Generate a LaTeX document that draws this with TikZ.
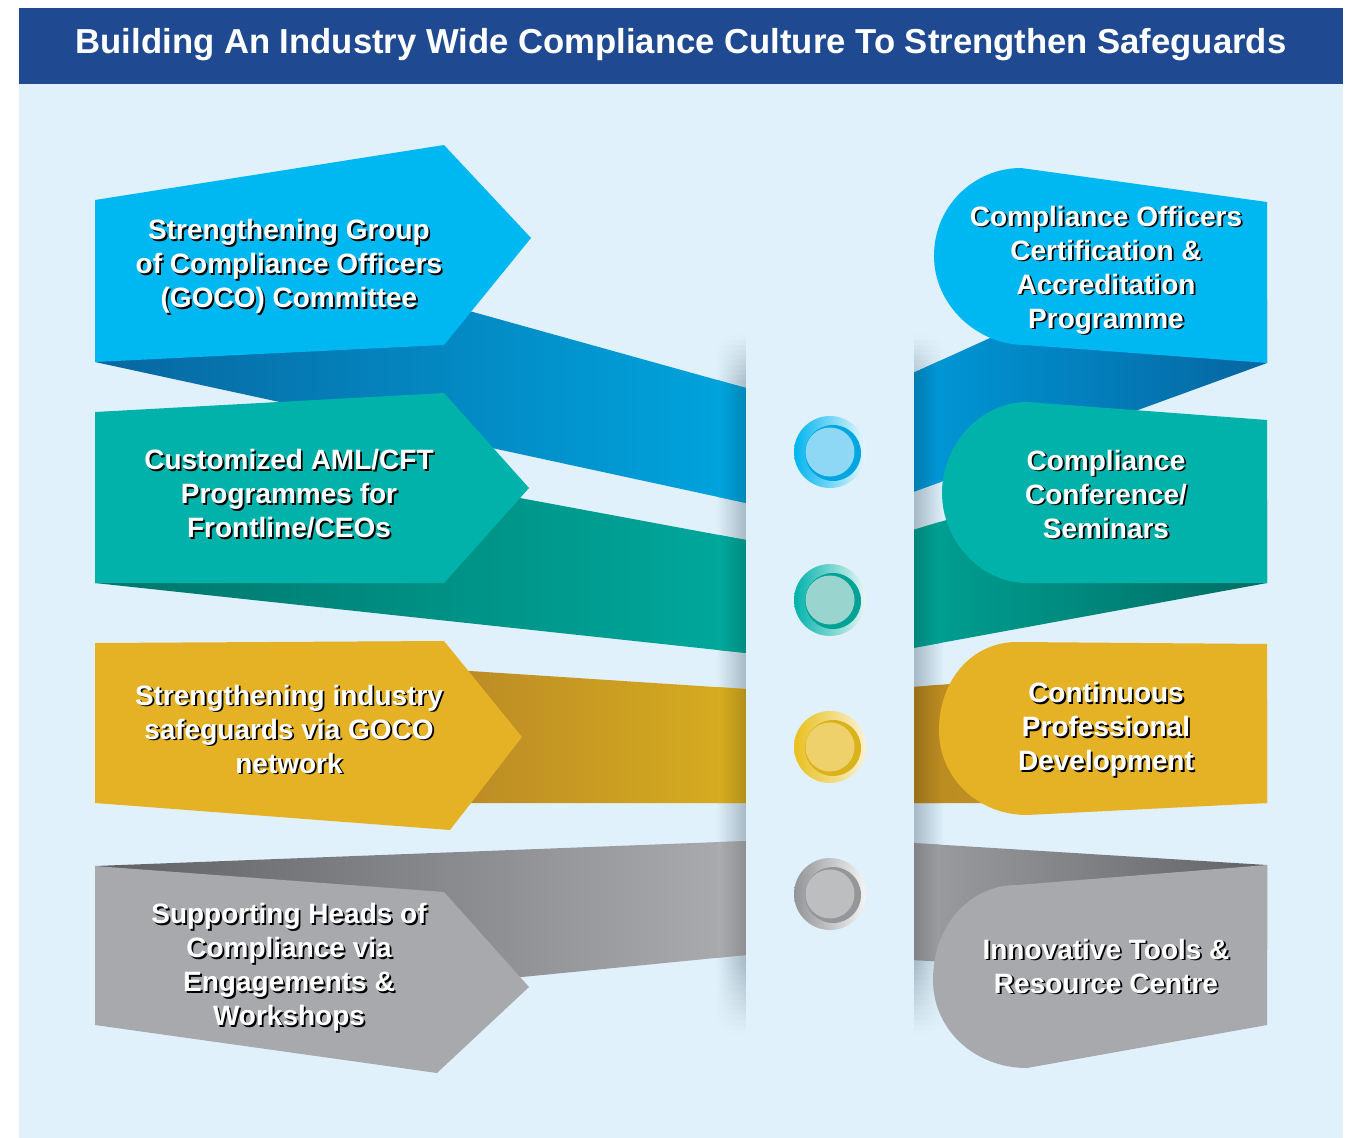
\documentclass[tikz,border=0pt]{standalone}
\usepackage{fontspec}
\setmainfont{Liberation Sans}
\definecolor{bgpanel}{HTML}{E0F1FB}
\definecolor{shcol}{HTML}{A6B8C4}
\definecolor{titlebar}{HTML}{1F4A91}
\definecolor{bluef}{HTML}{00B8F1}
\definecolor{tealf}{HTML}{00B2A9}
\definecolor{yellf}{HTML}{E5B225}
\definecolor{grayf}{HTML}{A7A9AC}
% ribbon colours
\definecolor{rbLa}{HTML}{0866A0}\definecolor{rbLb}{HTML}{00A5DF}
\definecolor{rtLa}{HTML}{00756A}\definecolor{rtLb}{HTML}{00A99D}
\definecolor{ryLa}{HTML}{BA8926}\definecolor{ryLb}{HTML}{D8AE1F}
\definecolor{rgLa}{HTML}{5F6063}\definecolor{rgLb}{HTML}{ABADB0}
\definecolor{rbRa}{HTML}{0098D8}\definecolor{rbRb}{HTML}{0665A0}
\definecolor{rtRa}{HTML}{00A194}\definecolor{rtRb}{HTML}{006C62}
\definecolor{ryRa}{HTML}{BA8A20}\definecolor{ryRb}{HTML}{D3A62A}
\definecolor{rgRa}{HTML}{9C9EA1}\definecolor{rgRb}{HTML}{616266}
% disc colours
\definecolor{dbA}{HTML}{00B5EF}\definecolor{dbB}{HTML}{E8F6FD}\definecolor{dbC}{HTML}{00A6E0}\definecolor{dbD}{HTML}{8ED8F6}
\definecolor{dtA}{HTML}{00B2A9}\definecolor{dtB}{HTML}{EAF6F4}\definecolor{dtC}{HTML}{00A295}\definecolor{dtD}{HTML}{9AD4CF}
\definecolor{dyA}{HTML}{E9C01E}\definecolor{dyB}{HTML}{FBF1D2}\definecolor{dyC}{HTML}{D9B21C}\definecolor{dyD}{HTML}{EFD16C}
\definecolor{dgA}{HTML}{929497}\definecolor{dgB}{HTML}{F4F4F4}\definecolor{dgC}{HTML}{949699}\definecolor{dgD}{HTML}{BDBEC0}
\newcommand{\shadowtext}[3]{%
  \node[lbl, text=black] at ([shift={(1.8,1.8)}]#1) {#3};
  \node[lbl, text=white] (#2) at (#1) {#3};}
\newcommand{\discmark}[7]{%
  \shade[left color=#3, right color=#4] (#1,#2) circle[radius=36];
  \fill[#5] (#1+3,#2+1) circle[radius=28];
  \fill[#6] (#1,#2) circle[radius=24.5];
  \coordinate (#7) at (#1,#2);}
% left ribbon with darkened end at the column
\newcommand{\ribbonL}[3]{%
  \shade[left color=#1, right color=#2] #3;
  \begin{scope}\clip #3;
    \shade[left color=#2, right color=#2!82!black] (718,300) rectangle (746.5,1050);
  \end{scope}}
\newcommand{\ribbonR}[3]{%
  \shade[left color=#1, right color=#2] #3;
  \begin{scope}\clip #3;
    \shade[left color=#1!82!black, right color=#1] (913.5,300) rectangle (940,1050);
  \end{scope}}
\begin{document}
\begin{tikzpicture}[x=0.75pt,y=-0.75pt,
  lbl/.style={align=center, inner sep=0pt, font=\bfseries\fontsize{21}{25.5}\selectfont},
  titletext/.style={text=white, inner sep=0pt, font=\bfseries\fontsize{26}{30}\selectfont}]
\useasboundingbox (0,0) rectangle (1357,1138);
\fill[white] (0,0) rectangle (1357,1138);
\fill[bgpanel] (19,84) rectangle (1343,1138);
\fill[titlebar] (19,8) rectangle (1343,84);
\node[titletext] (title) at (681,45) {Building An Industry Wide Compliance Culture To Strengthen Safeguards};

% ---------- column shadows on the background ----------
\shade[left color=bgpanel, right color=shcol] (716,384.5) rectangle (746.5,960.5);
\shade[left color=shcol, right color=bgpanel] (913.5,384.5) rectangle (944,960.5);
\foreach \i in {0,...,9}{
  \pgfmathtruncatemacro\t{5+\i*10}
  \shade[left color=bgpanel, right color=shcol!\t!bgpanel] (716,335+\i*5) rectangle (746.5,340.5+\i*5);
  \shade[left color=shcol!\t!bgpanel, right color=bgpanel] (913.5,335+\i*5) rectangle (944,340.5+\i*5);
}
\foreach \i in {0,...,14}{
  \pgfmathtruncatemacro\t{100-\i*7}
  \shade[left color=bgpanel, right color=shcol!\t!bgpanel] (716,960+\i*5) rectangle (746.5,965.5+\i*5);
  \shade[left color=shcol!\t!bgpanel, right color=bgpanel] (913.5,960+\i*5) rectangle (944,965.5+\i*5);
}

% ---------- left side ----------
\ribbonL{rbLa}{rbLb}{(95,362) -- (746,503) -- (746,388) -- (473,312) -- (300,280) -- cycle}
\fill[bluef] (95,200) -- (444,145) -- (531,238) -- (444,345) -- (95,362) -- cycle;

\ribbonL{rtLa}{rtLb}{(95,583) -- (746,653) -- (746,540) -- (520,498) -- (300,470) -- cycle}
\fill[tealf] (95,412) -- (444,393) -- (529,488) -- (444,583) -- (95,583) -- cycle;

\ribbonL{ryLa}{ryLb}{(440,669) -- (470,671) -- (746,689) -- (746,803) -- (440,803) -- cycle}
\fill[yellf] (95,643) -- (444,641) -- (522,737) -- (450,830) -- (95,803) -- cycle;

\ribbonL{rgLa}{rgLb}{(95,866) -- (746,841) -- (746,955) -- (522,977) -- (300,990) -- cycle}
\fill[grayf] (95,866) -- (444,892) -- (529,987) -- (437,1073) -- (95,1025) -- cycle;

% ---------- right side ----------
\ribbonR{rbRa}{rbRb}{(913,373) -- (1100,288) -- (1267,300) -- (1267,363) -- (913,492) -- cycle}
\fill[bluef] (1021,168) -- (1267,202) -- (1267,363) -- (1025,345)
  .. controls (977,345) and (934,305) .. (934,256)
  .. controls (934,205) and (975,168) .. (1021,168) -- cycle;

\ribbonR{rtRa}{rtRb}{(913,530) -- (1000,504) -- (1267,500) -- (1267,583) -- (913,648) -- cycle}
\fill[tealf] (1027,402) -- (1267,420) -- (1267,583) -- (1027,583)
  .. controls (980,583) and (942,540) .. (942,493)
  .. controls (942,445) and (980,402) .. (1027,402) -- cycle;

\ribbonR{ryRa}{ryRb}{(913,687) -- (1000,680) -- (1267,700) -- (1267,803) -- (913,803) -- cycle}
\fill[yellf] (1017,642) -- (1267,644) -- (1267,803) -- (1027,815)
  .. controls (978,815) and (939,778) .. (939,730)
  .. controls (939,680) and (972,642) .. (1017,642) -- cycle;

\ribbonR{rgRa}{rgRb}{(913,843) -- (1267,865) -- (1267,950) -- (1000,965) -- (913,960) -- cycle}
\fill[grayf] (1017,885) -- (1267,865) -- (1267,1025) -- (1027,1068)
  .. controls (975,1068) and (933,1030) .. (933,980)
  .. controls (933,925) and (970,885) .. (1017,885) -- cycle;

% ---------- central column ----------
\fill[bgpanel] (746,300) rectangle (914,1050);

% ---------- discs ----------
\discmark{830}{452}{dbA}{dbB}{dbC}{dbD}{d1}
\discmark{830}{600}{dtA}{dtB}{dtC}{dtD}{d2}
\discmark{830}{747}{dyA}{dyB}{dyC}{dyD}{d3}
\discmark{830}{894}{dgA}{dgB}{dgC}{dgD}{d4}

% ---------- texts ----------
\shadowtext{289,266}{t1}{Strengthening Group\\of Compliance Officers\\(GOCO) Committee}
\shadowtext{289,494}{t2}{Customized AML/CFT\\Programmes for\\Frontline/CEOs}
\shadowtext{289,729}{t3}{Strengthening industry\\safeguards via GOCO\\network}
\shadowtext{289,967}{t4}{Supporting Heads of\\Compliance via\\Engagements \&\\Workshops}
\shadowtext{1106,270}{t5}{Compliance Officers\\Certification \&\\Accreditation\\Programme}
\shadowtext{1106,494}{t6}{Compliance\\Conference/\\Seminars}
\shadowtext{1106,729}{t7}{Continuous\\Professional\\Development}
\shadowtext{1106,966}{t8}{Innovative Tools \&\\Resource Centre}
\end{tikzpicture}
\end{document}
